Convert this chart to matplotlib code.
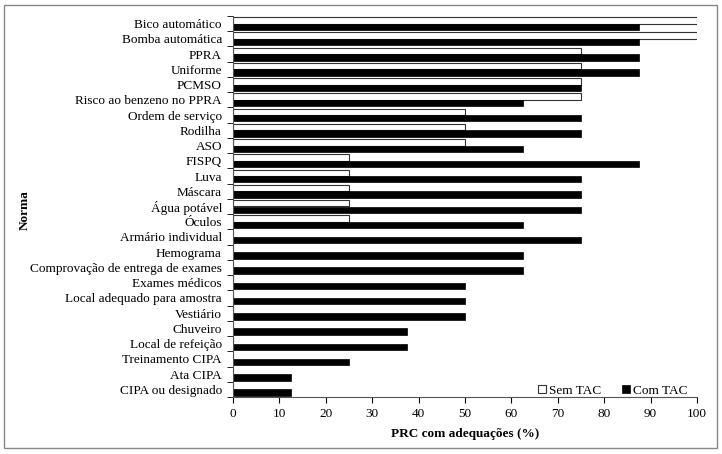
import matplotlib
matplotlib.use("Agg")
import matplotlib.pyplot as plt
import numpy as np
from matplotlib.patches import Rectangle

categories = ["Bico automático", "Bomba automática", "PPRA", "Uniforme", "PCMSO",
              "Risco ao benzeno no PPRA", "Ordem de serviço", "Rodilha", "ASO", "FISPQ",
              "Luva", "Máscara", "Água potável", "Óculos", "Armário individual",
              "Hemograma", "Comprovação de entrega de exames", "Exames médicos",
              "Local adequado para amostra", "Vestiário", "Chuveiro", "Local de refeição",
              "Treinamento CIPA", "Ata CIPA", "CIPA ou designado"]
sem_tac = [100, 100, 75, 75, 75, 75, 50, 50, 50, 25, 25, 25, 25, 25,
           0, 0, 0, 0, 0, 0, 0, 0, 0, 0, 0]
com_tac = [87.5, 87.5, 87.5, 87.5, 75, 62.5, 75, 75, 62.5, 87.5, 75, 75, 75, 62.5,
           75, 62.5, 62.5, 50, 50, 50, 37.5, 37.5, 25, 12.5, 12.5]
xticks = [0, 10, 20, 30, 40, 50, 60, 70, 80, 90, 100]

plt.rcParams['font.family'] = ['Liberation Serif', 'DejaVu Serif']
fs = 9.5

fig = plt.figure(figsize=(7.22, 4.54), dpi=100)
ax = fig.add_axes([233/722, 1-397/454, (697-233)/722, (397-16)/454])

n = len(categories)
pos = np.arange(n)
h = 0.42
ax.barh(pos - h/2, sem_tac, height=h, color='white', edgecolor='#333333', linewidth=0.8, label='Sem TAC')
ax.barh(pos + h/2, com_tac, height=h, color='black', edgecolor='black', linewidth=0.5, label='Com TAC')

ax.set_ylim(n - 0.5, -0.5)
ax.set_xlim(0, 100)
ax.set_xticks(xticks)
ax.set_xticklabels([str(t) for t in xticks], fontsize=fs)
ax.set_yticks(pos)
ax.set_yticklabels(categories, fontsize=fs)
ax.tick_params(axis='y', length=0, pad=8)
ax.set_yticks(np.arange(-0.5, n, 1), minor=True)
ax.tick_params(axis='y', which='minor', length=4, direction='out')
ax.tick_params(axis='x', length=4, direction='out', pad=4)
for s in ['top', 'right']:
    ax.spines[s].set_visible(False)
for s in ['left', 'bottom']:
    ax.spines[s].set_color('#555555')
    ax.spines[s].set_linewidth(0.8)

ax.set_xlabel('PRC com adequações (%)', fontsize=fs, fontweight='bold', labelpad=6)
ax.set_ylabel('Norma', fontsize=fs, fontweight='bold')
ax.yaxis.set_label_coords(-202/464, 0.49)

leg = ax.legend(loc='lower right', bbox_to_anchor=(1.005, -0.03), ncol=2, frameon=False,
                fontsize=fs, handlelength=0.6, handleheight=0.6, handletextpad=0.2,
                columnspacing=1.6)

fig.patches.append(Rectangle((4/722, 1-448/454), 713/722, 443/454, transform=fig.transFigure,
                             fill=False, edgecolor='#888888', linewidth=1.0))

fig.savefig('out.png', dpi=100)
